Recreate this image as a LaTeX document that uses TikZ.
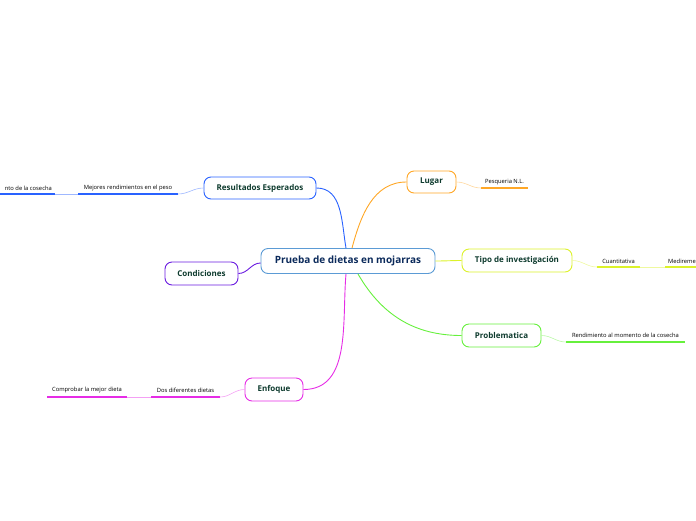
\documentclass[tikz,border=0pt]{standalone}
\usepackage{fontspec}
\setmainfont{Open Sans}
\usepackage{tikz}
\usetikzlibrary{positioning}
\definecolor{centreline}{HTML}{5B9BD5}
\definecolor{centretext}{HTML}{0B2A5B}
\definecolor{topictext}{HTML}{0E3B2E}
\definecolor{cblue}{HTML}{2962FF}
\definecolor{corange}{HTML}{FFA726}
\definecolor{cyellow}{HTML}{DCF22A}
\definecolor{cgreen}{HTML}{66F03C}
\definecolor{cpurple}{HTML}{6A1BE0}
\definecolor{cmagenta}{HTML}{E62CE6}
\tikzset{
  central/.style={draw=centreline, line width=0.9pt, rounded corners=7pt, fill=white, text=centretext, font=\fontsize{10}{12}\selectfont\bfseries, minimum width=174pt, minimum height=25pt, inner sep=0pt},
  topic/.style={draw=#1, line width=0.9pt, rounded corners=7pt, fill=white, text=topictext, font=\fontsize{8}{9.5}\selectfont\bfseries, minimum height=22pt, inner sep=0pt},
  subtopic/.style={font=\fontsize{5.8}{7}\selectfont, text=black, inner sep=1pt, anchor=south},
  mainlink/.style={draw=#1, line width=0.9pt},
  sublink/.style={draw=#1!45, line width=0.6pt},
  underline/.style={draw=#1, line width=1.4pt}
}
\begin{document}
\begin{tikzpicture}[x=1pt, y=-1pt]
  \useasboundingbox (0,0) rectangle (696,520);

  % central idea
  \node[central] (ctr) at (348,261) {Prueba de dietas en mojarras};

  % main topics
  \node[topic=cblue, minimum width=112pt] (res) at (260,188) {Resultados Esperados};
  \node[topic=corange, minimum width=49pt] (lug) at (431.5,182) {Lugar};
  \node[topic=cyellow, minimum width=110pt, minimum height=23pt] (tipo) at (517,260.5) {Tipo de investigación};
  \node[topic=cgreen, minimum width=79pt, minimum height=23pt] (prob) at (501.5,335.5) {Problematica};
  \node[topic=cpurple, minimum width=73pt, minimum height=23pt] (cond) at (201.5,273.5) {Condiciones};
  \node[topic=cmagenta, minimum width=58pt, minimum height=23pt] (enf) at (274,389.5) {Enfoque};

  % links from the central idea
  \coordinate (ctrN1) at ([xshift=-2pt]ctr.north);
  \coordinate (ctrN2) at ([xshift=4pt]ctr.north);
  \coordinate (ctrS1) at ([xshift=-2pt]ctr.south);
  \coordinate (ctrS2) at ([xshift=10pt]ctr.south);
  \draw[mainlink=cblue] (ctrN1) to[out=100, in=0] (res.east);
  \draw[mainlink=corange] (ctrN2) to[out=75, in=180] (lug.west);
  \draw[mainlink=cyellow] (ctr.east) to[out=0, in=180] (tipo.west);
  \draw[mainlink=cgreen] (ctrS2) to[out=-60, in=180] (prob.west);
  \draw[mainlink=cpurple] ([yshift=-2pt]ctr.west) to[out=180, in=0] (cond.east);
  \draw[mainlink=cmagenta] (ctrS1) to[out=-95, in=0] (enf.east);

  % subtopics
  \node[subtopic] (mej) at (128,192) {Mejores rendimientos en el peso};
  \node[subtopic, anchor=south east] (cos) at (53,192) {nto de la cosecha};
  \draw[underline=cblue] (78,194) coordinate (mejW) -- (178,194) coordinate (mejE);
  \draw[underline=cblue] (0,194) -- (55,194) coordinate (cosE);
  \draw[sublink=cblue] (res.west) to[out=180, in=0] (mejE);
  \draw[sublink=cblue] (cosE) -- (mejW);

  \node[subtopic] (pes) at (504.5,186) {Pesqueria N.L.};
  \draw[underline=corange] (481,188) coordinate (pesW) -- (528,188);
  \draw[sublink=corange] (lug.east) to[out=0, in=180] (pesW);

  \node[subtopic] (cuan) at (618.5,265) {Cuantitativa};
  \node[subtopic, anchor=south west] (med) at (667,265) {Medireme};
  \draw[underline=cyellow] (597,267) coordinate (cuanW) -- (640,267) coordinate (cuanE);
  \draw[underline=cyellow] (665,267) coordinate (medW) -- (696,267);
  \draw[sublink=cyellow] (tipo.east) to[out=0, in=180] (cuanW);
  \draw[sublink=cyellow] (cuanE) -- (medW);

  \node[subtopic] (ren) at (625.5,339) {Rendimiento al momento de la cosecha};
  \draw[underline=cgreen] (566,342) coordinate (renW) -- (685,342);
  \draw[sublink=cgreen] (prob.east) to[out=0, in=180] (renW);

  \node[subtopic] (dos) at (185.5,394) {Dos diferentes dietas};
  \node[subtopic] (comp) at (87,394) {Comprobar la mejor dieta};
  \draw[underline=cmagenta] (151,397) coordinate (dosW) -- (220,397) coordinate (dosE);
  \draw[underline=cmagenta] (47,397) -- (127,397) coordinate (compE);
  \draw[sublink=cmagenta] (enf.west) to[out=180, in=0] (dosE);
  \draw[sublink=cmagenta] (compE) -- (dosW);
\end{tikzpicture}
\end{document}
